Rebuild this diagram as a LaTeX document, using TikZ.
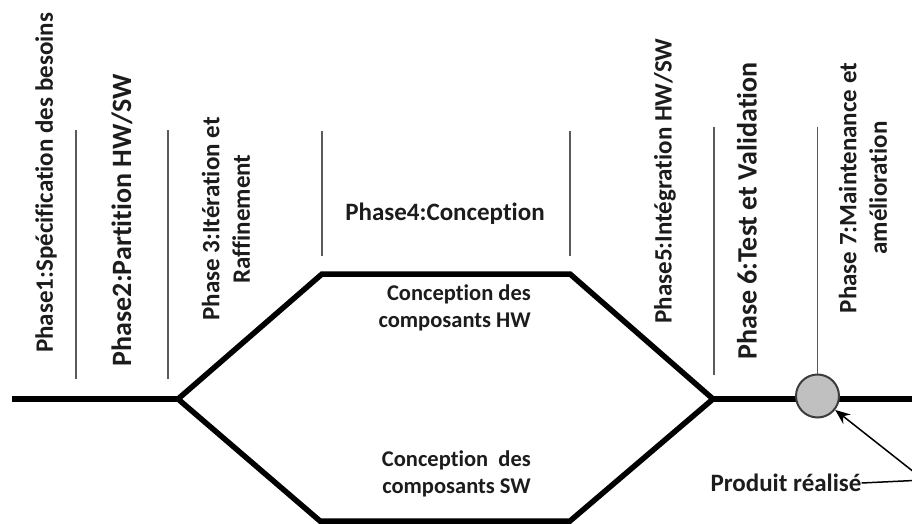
\documentclass[tikz,border=0pt]{standalone}
\usepackage{fontspec}
\setmainfont{Carlito}[Ligatures={NoCommon,NoRequired,NoContextual}]
\usetikzlibrary{arrows.meta}
\definecolor{ink}{HTML}{1C1C1C}
\definecolor{divgray}{HTML}{5A5A5A}
\definecolor{dotfill}{HTML}{C0C0C0}
\definecolor{dotedge}{HTML}{3C3C3C}
\begin{document}
\begin{tikzpicture}[x=1pt,y=-1pt,
  lbl/.style={font=\bfseries\fontsize{25}{30.5}\selectfont, text=ink, inner sep=0pt, align=center},
  biglbl/.style={lbl, font=\bfseries\fontsize{28}{34}\selectfont},
  vert/.style={rotate=90},
  sublbl/.style={lbl, font=\bfseries\fontsize{22.5}{27}\selectfont, align=right, anchor=east},
  divider/.style={draw=divgray, line width=1.7pt},
  track/.style={draw=black, line width=5.5pt, line join=miter},
  pointer/.style={draw=black, line width=1.5pt, -{Stealth[length=15pt,width=12pt]}}]
\useasboundingbox (0,0) rectangle (912,524);
\clip (0,0) rectangle (912,524);

% main track and the HW/SW split
\coordinate (start) at (12,399);
\coordinate (hexL) at (178,399);
\coordinate (hexTL) at (322,274);
\coordinate (hexTR) at (570,274);
\coordinate (hexR) at (713,399);
\coordinate (hexBR) at (570,521);
\coordinate (hexBL) at (320,521);
\coordinate (finish) at (930,399);

\draw[track] (start) -- (hexL);
\draw[track] (hexL) -- (hexTL) -- (hexTR) -- (hexR) -- (hexBR) -- (hexBL) -- cycle;
\draw[track] (hexR) -- (finish);

% finished-product marker sits on the track
\node[circle, minimum size=43pt, inner sep=0pt, fill=dotfill, draw=dotedge, line width=2pt] (prod) at (817.5,396) {};

% phase dividers
\coordinate (d1t) at (76,130);  \coordinate (d1b) at (76,379);
\coordinate (d2t) at (168,130); \coordinate (d2b) at (168,379);
\coordinate (d3t) at (322,131); \coordinate (d3b) at (322,256);
\coordinate (d4t) at (570,131); \coordinate (d4b) at (570,256);
\coordinate (d5t) at (714,127); \coordinate (d5b) at (714,375);
\coordinate (d6t) at (817.5,127);
\draw[divider] (d1t) -- (d1b);
\draw[divider] (d2t) -- (d2b);
\draw[divider] (d3t) -- (d3b);
\draw[divider] (d4t) -- (d4b);
\draw[divider] (d5t) -- (d5b);
\draw[divider] (d6t) -- (prod.north);

% phase labels
\node[lbl, vert] (ph1) at (46,183) {Phase1:Spécification des besoins};
\node[biglbl, vert] (ph2) at (122,220) {Phase2:Partition HW/SW};
\node[lbl, vert] (ph3) at (226,219) {Phase 3:Itération et\\Raffinement};
\node[lbl] (ph4) at (445,214) {Phase4:Conception};
\node[lbl, vert] (ph5) at (665,181) {Phase5:Intégration HW/SW};
\node[biglbl, vert] (ph6) at (747,211) {Phase 6:Test et Validation};
\node[lbl, vert] (ph7) at (863,188) {Phase 7:Maintenance et\\amélioration};

% branch labels
\node[sublbl] (hw) at (531,308) {Conception des\\composants HW};
\node[sublbl] (sw) at (531,474) {Conception~ des\\composants SW};

% finished product callout
\node[lbl] (real) at (786,483) {Produit réalisé};
\coordinate (elbow) at (924,480);
\draw[pointer] (real.east) -- (elbow) -- (prod);
\end{tikzpicture}
\end{document}
